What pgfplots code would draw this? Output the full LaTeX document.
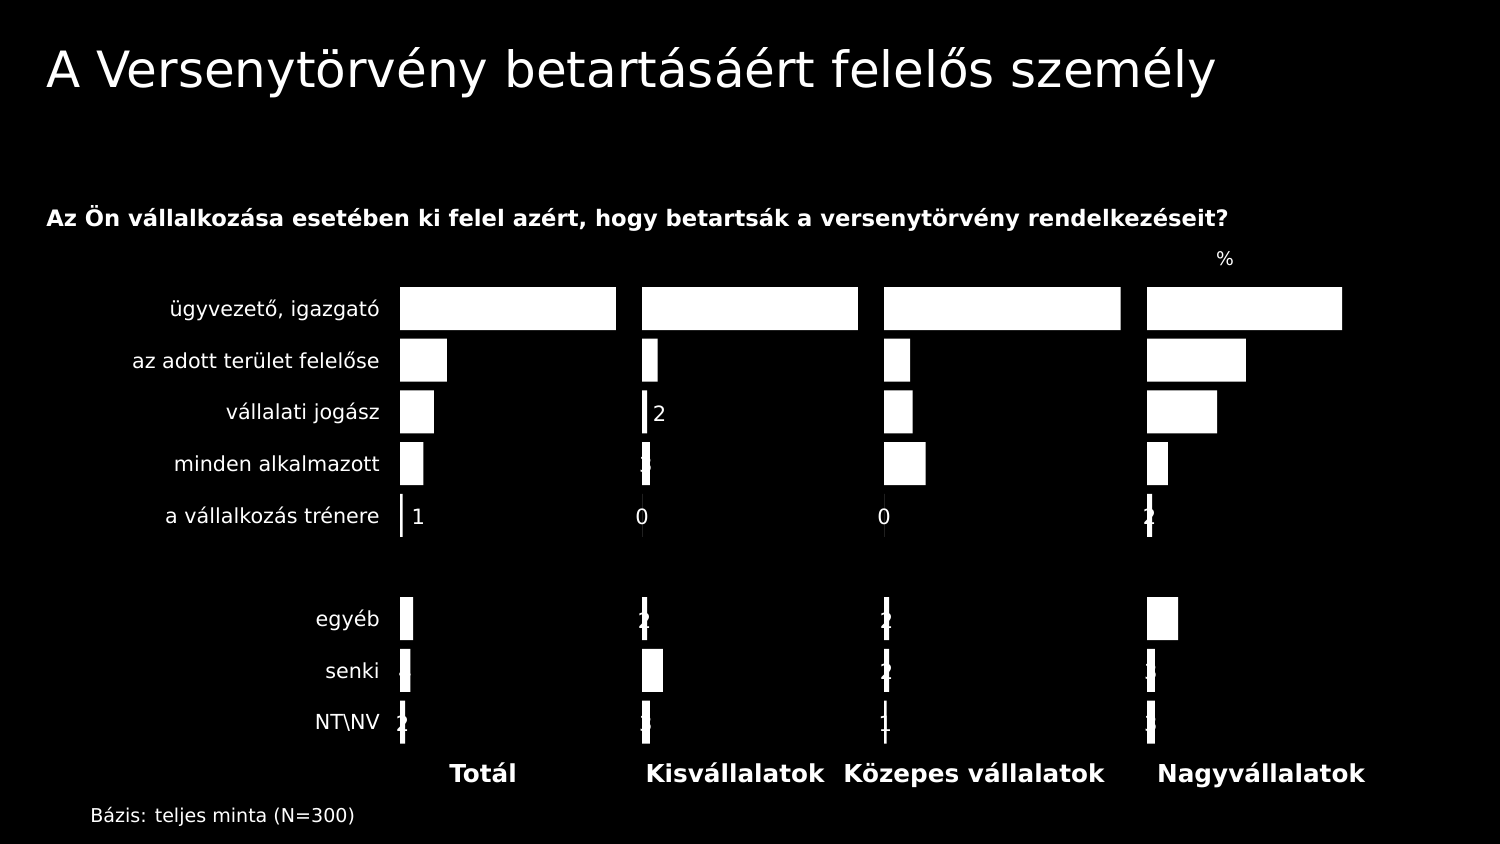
\documentclass[border=0pt]{standalone}
\usepackage{fontspec}
\setmainfont{DejaVu Sans}
\usepackage{pgfplots}
\pgfplotsset{compat=1.18}
\usepackage{pgfplotstable}

% y = row (0 top), x = percent, s = extra label shift (px)
\pgfplotstableread{
y x s
0 83 0
1 18 0
2 13 0
3 9 0
4 1 17
6 5 0
7 4 0
8 2 0
}\tot
\pgfplotstableread{
y x s
0 83 0
1 6 0
2 2 15
3 3 0
4 0 0
6 2 0
7 8 0
8 3 0
}\kis
\pgfplotstableread{
y x s
0 91 0
1 10 0
2 11 0
3 16 0
4 0 0
6 2 0
7 2 0
8 1 0
}\koz
\pgfplotstableread{
y x s
0 75 0
1 38 0
2 27 0
3 8 0
4 2 0
6 12 0
7 3 0
8 3 0
}\nagy

\pgfplotsset{
  panel/.style={
    xbar, scale only axis, width=166.4pt, height=297.8pt, anchor=north west,
    xmin=0, xmax=100, ymin=-0.5, ymax=8.5, y dir=reverse, enlargelimits=false,
    axis line style={draw=none}, tick style={draw=none}, major tick length=0pt,
    xtick=\empty, ytick={0,1,2,3,4,6,7,8}, yticklabels={},
    bar width=27.52pt, clip=false,
    /pgf/number format/assume math mode=true,
    yticklabel style={anchor=base east, text=white, font=\fontsize{13.25}{16}\selectfont, inner sep=0pt, xshift=-12.8pt, yshift=-5pt},
  },
  pbar/.style={
    fill=white, draw=none,
    visualization depends on={\thisrow{x} \as \xv},
    visualization depends on={\thisrow{s} \as \sv},
    nodes near coords,
    every node near coord/.style={anchor=base, text=white, inner sep=0pt,
      font=\fontsize{13.5}{16}\selectfont,
      xshift={(\sv-1.3*\xv)*0.64pt}, yshift=-6pt},
  },
}

\begin{document}
\begin{tikzpicture}[x=0.64pt, y=-0.64pt]
\fill[black] (0,0) rectangle (1500,844);

\begin{axis}[panel, at={(256pt,-180.9pt)},
  yticklabels={{ügyvezető, igazgató},{az adott terület felelőse},{vállalati jogász},{minden alkalmazott},{a vállalkozás trénere},{egyéb},{senki},{NT\textbackslash NV}}]
\addplot[pbar] table[x=x, y=y] {\tot};
\end{axis}
\begin{axis}[panel, at={(410.88pt,-180.9pt)}]
\addplot[pbar] table[x=x, y=y] {\kis};
\end{axis}
\begin{axis}[panel, at={(565.76pt,-180.9pt)}]
\addplot[pbar] table[x=x, y=y] {\koz};
\end{axis}
\begin{axis}[panel, at={(734.08pt,-180.9pt)}]
\addplot[pbar] table[x=x, y=y] {\nagy};
\end{axis}

\node[anchor=base west, inner sep=0pt, text=white, font=\fontsize{32}{38}\selectfont] at (46,87) {A Versenytörvény betartásáért felelős személy};
\node[anchor=base west, inner sep=0pt, text=white, font=\bfseries\fontsize{14.5}{17}\selectfont] at (46,226) {Az Ön vállalkozása esetében ki felel azért, hogy betartsák a versenytörvény rendelkezéseit?};
\node[anchor=base, inner sep=0pt, text=white, font=\fontsize{12}{14}\selectfont] at (1225,265) {\%};
\node[anchor=base, inner sep=0pt, text=white, font=\bfseries\fontsize{15.8}{19}\selectfont] at (483,782) {Totál};
\node[anchor=base, inner sep=0pt, text=white, font=\bfseries\fontsize{15.8}{19}\selectfont] at (735,782) {Kisvállalatok};
\node[anchor=base, inner sep=0pt, text=white, font=\bfseries\fontsize{15.8}{19}\selectfont] at (974,782) {Közepes vállalatok};
\node[anchor=base, inner sep=0pt, text=white, font=\bfseries\fontsize{15.8}{19}\selectfont] at (1261,782) {Nagyvállalatok};
\node[anchor=base west, inner sep=0pt, text=white, font=\fontsize{12.2}{14}\selectfont] at (90,822) {Bázis: teljes minta (N=300)};
\end{tikzpicture}
\end{document}
